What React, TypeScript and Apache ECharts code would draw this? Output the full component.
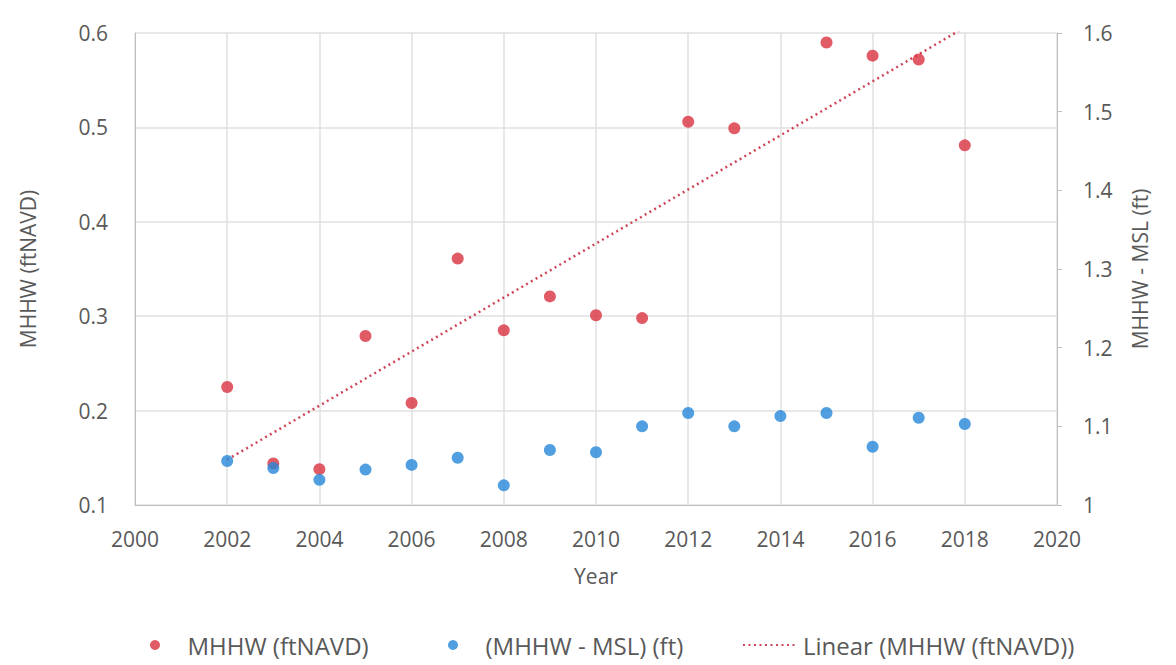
import React, { useEffect, useRef } from "react";
import * as echarts from "echarts";

const years = [2002, 2003, 2004, 2005, 2006, 2007, 2008, 2009, 2010, 2011, 2012, 2013, 2014, 2015, 2016, 2017, 2018];
const mhhw: (number | null)[] = [0.225, 0.144, 0.138, 0.279, 0.208, 0.361, 0.285, 0.321, 0.301, 0.298, 0.506, 0.499, null, 0.590, 0.576, 0.572, 0.481];
const mhhwMinusMsl = [1.056, 1.047, 1.032, 1.045, 1.051, 1.060, 1.025, 1.070, 1.067, 1.100, 1.117, 1.100, 1.113, 1.117, 1.074, 1.111, 1.103];
const trendYears = [2002, 2018];
const trendValues = [0.148, 0.606];

const leftName = "MHHW (ftNAVD)";
const rightName = "MHHW - MSL (ft)";
const xName = "Year";
const s1 = "MHHW (ftNAVD)";
const s2 = "(MHHW - MSL) (ft)";
const s3 = "Linear (MHHW (ftNAVD))";

const FONT = "'Open Sans', 'Noto Sans', sans-serif";
const TXT = "#595959";

export default function App() {
  const ref = useRef<HTMLDivElement>(null);
  useEffect(() => {
    if (!ref.current) return;
    const chart = echarts.init(ref.current, null, { renderer: "svg" });
    const fmt = (v: number) => String(Math.round(v * 10) / 10);
    const legendBase = {
      top: 628,
      itemWidth: 55,
      itemHeight: 10,
      textStyle: { color: TXT, fontSize: 24, fontFamily: FONT },
    };
    chart.setOption({
      animation: false,
      backgroundColor: "#ffffff",
      textStyle: { fontFamily: FONT },
      grid: { left: 135, right: 119, top: 33, bottom: 160, containLabel: false },
      legend: [
        { ...legendBase, left: 145, data: [{ name: s1, icon: "circle" }] },
        { ...legendBase, left: 443, data: [{ name: s2, icon: "circle" }] },
        { ...legendBase, left: 737, data: [{ name: s3, itemStyle: { opacity: 0 } }] },
      ],
      xAxis: {
        type: "value",
        min: 2000,
        max: 2020,
        interval: 2,
        name: xName,
        nameLocation: "middle",
        nameGap: 60,
        nameTextStyle: { color: TXT, fontSize: 21, fontFamily: FONT },
        axisLine: { show: true, lineStyle: { color: "#bfbfbf", width: 1 } },
        axisTick: { show: false },
        axisLabel: { color: TXT, fontSize: 21, margin: 23, fontFamily: FONT, formatter: (v: number) => String(v) },
        splitLine: { show: true, lineStyle: { color: "#e0e0e0", width: 1.5 } },
      },
      yAxis: [
        {
          type: "value",
          min: 0.1,
          max: 0.6,
          interval: 0.1,
          position: "left",
          name: leftName,
          nameLocation: "middle",
          nameRotate: 90,
          nameGap: 97,
          nameTextStyle: { color: TXT, fontSize: 21, fontFamily: FONT },
          axisLine: { show: true, lineStyle: { color: "#bfbfbf", width: 1 } },
          axisTick: { show: false },
          axisLabel: { color: TXT, fontSize: 21, margin: 27, fontFamily: FONT, formatter: fmt },
          splitLine: { show: true, lineStyle: { color: "#e0e0e0", width: 1.5 } },
        },
        {
          type: "value",
          min: 1,
          max: 1.6,
          interval: 0.1,
          position: "right",
          name: rightName,
          nameLocation: "middle",
          nameRotate: 90,
          nameGap: 72,
          nameTextStyle: { color: TXT, fontSize: 21, fontFamily: FONT },
          axisLine: { show: true, lineStyle: { color: "#bfbfbf", width: 1 } },
          axisTick: { show: true, inside: false, length: 5, lineStyle: { color: "#bfbfbf" } },
          axisLabel: { color: TXT, fontSize: 21, margin: 26, fontFamily: FONT, formatter: fmt },
          splitLine: { show: false },
        },
      ],
      series: [
        {
          name: s1,
          type: "scatter",
          yAxisIndex: 0,
          symbol: "circle",
          symbolSize: 12,
          itemStyle: { color: "#DA3240" },
          data: years.map((y, i) => [y, mhhw[i]]).filter((d) => d[1] !== null),
          z: 3,
        },
        {
          name: s3,
          type: "line",
          yAxisIndex: 0,
          symbol: "none",
          clip: true,
          lineStyle: { color: "#CF4658", width: 2.5, type: [2, 3.5] },
          itemStyle: { color: "#CF4658" },
          data: trendYears.map((y, i) => [y, trendValues[i]]),
          z: 2,
        },
        {
          name: s2,
          type: "scatter",
          yAxisIndex: 1,
          symbol: "circle",
          symbolSize: 12,
          itemStyle: { color: "#2587DA" },
          data: years.map((y, i) => [y, mhhwMinusMsl[i]]),
          z: 4,
        },
      ],
    });
    return () => chart.dispose();
  }, []);
  return (
    <div
      ref={ref}
      style={{ position: "fixed", left: 0, top: 0, width: 1176, height: 665, background: "#fff" }}
    />
  );
}
